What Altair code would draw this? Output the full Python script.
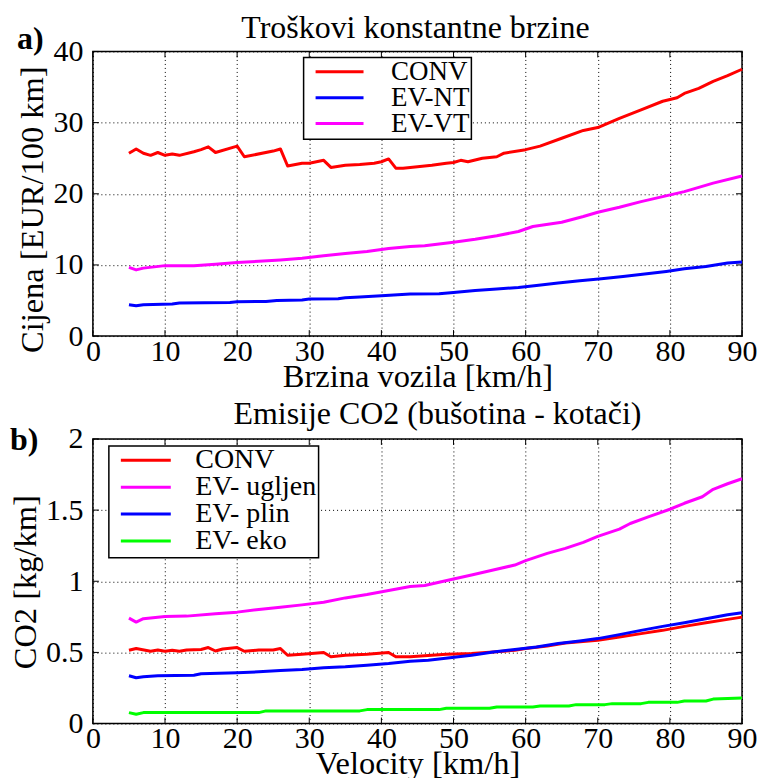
import altair as alt
import pandas as pd

FONT = "Liberation Serif"

# ---------------- panel a) : cost at constant speed ----------------
cost_conv_x = [5, 6, 7, 8, 9, 10, 11, 12, 14, 15, 16, 17, 20, 21, 25, 26, 27, 29, 30, 32, 33, 35, 37, 39, 40,
               41, 42, 43, 45, 47, 49, 50, 51, 52, 54, 56, 57, 60, 62, 65, 68, 70, 73, 76, 79, 81, 82, 84, 86, 88, 90]
cost_conv_y = [25.7, 26.3, 25.7, 25.4, 25.8, 25.4, 25.6, 25.4, 25.9, 26.2, 26.6, 25.8, 26.7, 25.2, 26.0, 26.3,
               23.9, 24.3, 24.3, 24.7, 23.7, 24.0, 24.1, 24.3, 24.5, 24.9, 23.6, 23.6, 23.8, 24.0, 24.3, 24.4,
               24.7, 24.5, 25.0, 25.2, 25.7, 26.2, 26.7, 27.8, 28.9, 29.3, 30.6, 31.8, 33.0, 33.5, 34.1, 34.8,
               35.8, 36.6, 37.5]

cost_evnt_x = [5, 6, 7, 11, 12, 19, 20, 24, 25.5, 29, 30, 34, 35, 37, 40, 44, 48, 50, 53, 56, 59, 61.5, 64.5,
               67.5, 70.5, 73.5, 76.5, 79.5, 82, 85, 88, 90]
cost_evnt_y = [4.4, 4.26, 4.4, 4.5, 4.64, 4.73, 4.82, 4.87, 5.0, 5.06, 5.2, 5.25, 5.39, 5.48, 5.67, 5.9, 5.95,
               6.14, 6.42, 6.6, 6.84, 7.12, 7.45, 7.78, 8.06, 8.38, 8.71, 9.09, 9.46, 9.79, 10.26, 10.4]

cost_evvt_x = [5, 6, 7, 10, 14, 17, 20, 23, 26, 29, 32, 35, 38, 41, 44, 46, 50, 53, 56, 59, 61, 65, 68, 70,
               73, 76, 79, 82, 84, 86, 90]
cost_evvt_y = [9.65, 9.3, 9.55, 9.9, 9.9, 10.1, 10.35, 10.5, 10.7, 10.95, 11.3, 11.6, 11.9, 12.3, 12.6, 12.7,
               13.2, 13.6, 14.1, 14.7, 15.4, 16.0, 16.8, 17.4, 18.1, 18.9, 19.6, 20.3, 20.9, 21.5, 22.5]

# ---------------- panel b) : CO2 emissions (well-to-wheel) ----------------
co2_conv_x = [5, 6, 8, 9, 10, 11, 12, 13, 15, 16, 17, 18, 20, 21, 23, 25, 26, 27, 29, 32, 33, 35, 38, 41, 42,
              44, 47, 49, 52.5, 55.5, 58.5, 60, 63, 65.5, 70, 73, 76, 79, 82, 85, 88, 90]
co2_conv_y = [0.515, 0.527, 0.508, 0.517, 0.508, 0.515, 0.508, 0.517, 0.520, 0.534, 0.510, 0.524, 0.534, 0.508,
              0.517, 0.517, 0.527, 0.480, 0.487, 0.499, 0.469, 0.480, 0.487, 0.499, 0.469, 0.469, 0.480, 0.487,
              0.492, 0.503, 0.515, 0.527, 0.545, 0.566, 0.585, 0.608, 0.632, 0.655, 0.683, 0.709, 0.732, 0.748]

co2_coal_x = [5, 6, 7, 10, 13, 17, 20, 23, 26, 29, 32, 35, 38, 41, 44, 46, 48, 50, 52.5, 55.5, 58.5, 60, 63,
              65.5, 68, 70, 73, 74.5, 77, 80, 82, 84.5, 86, 88, 90]
co2_coal_y = [0.741, 0.713, 0.737, 0.753, 0.755, 0.772, 0.783, 0.802, 0.818, 0.834, 0.853, 0.883, 0.907, 0.935,
              0.963, 0.970, 0.993, 1.016, 1.044, 1.079, 1.114, 1.145, 1.196, 1.231, 1.273, 1.315, 1.366, 1.406,
              1.452, 1.506, 1.548, 1.594, 1.646, 1.685, 1.72]

co2_gas_x = [5, 6, 7, 9, 14, 15, 20, 23, 26, 29, 32, 35, 38, 41, 44, 46.5, 49.5, 52.5, 55.5, 58.5, 61.5, 64.5,
             67.5, 70, 73, 76, 79, 82, 85, 88, 90]
co2_gas_y = [0.336, 0.322, 0.329, 0.336, 0.340, 0.350, 0.357, 0.364, 0.373, 0.380, 0.392, 0.399, 0.410, 0.422,
             0.438, 0.445, 0.462, 0.480, 0.503, 0.520, 0.538, 0.562, 0.580, 0.597, 0.625, 0.655, 0.683, 0.709,
             0.737, 0.765, 0.779]

co2_eco_x = [5, 6, 7, 23, 24, 37, 38, 48, 49, 55, 56, 61, 62, 66, 67, 71, 72, 76, 77, 81, 82, 85, 86, 90]
co2_eco_y = [0.077, 0.065, 0.077, 0.077, 0.089, 0.089, 0.098, 0.098, 0.107, 0.107, 0.117, 0.117, 0.124, 0.124,
             0.133, 0.133, 0.140, 0.140, 0.149, 0.149, 0.159, 0.159, 0.172, 0.179]

x_tick_values = [0, 10, 20, 30, 40, 50, 60, 70, 80, 90]
cost_tick_values = [0, 10, 20, 30, 40]
co2_tick_values = [0, 0.5, 1, 1.5, 2]

cost_names = ["CONV", "EV-NT", "EV-VT"]
cost_colors = ["#ff0000", "#0000ff", "#ff00ff"]
co2_names = ["CONV", "EV- ugljen", "EV- plin", "EV- eko"]
co2_colors = ["#ff0000", "#ff00ff", "#0000ff", "#00ff00"]

W, H = 650, 285


def to_long(names, xs_list, ys_list):
    rows = []
    for k, (n, xs, ys) in enumerate(zip(names, xs_list, ys_list)):
        for i, (a, b) in enumerate(zip(xs, ys)):
            rows.append({"series": n, "k": k, "i": i, "v": a, "val": b})
    return pd.DataFrame(rows)


def panel(df, names, colors, ydom, yticks, yfmt, ytitle, ytitle_y, xtitle, title, title_xy, tag, tag_xy,
          leg_xy, sym_len, label_size, sym_off, lab_off, row_pad):
    xscale = alt.Scale(domain=[0, 90], nice=False, zero=False)
    yscale = alt.Scale(domain=ydom, nice=False, zero=False)
    x_enc = alt.X("v:Q", scale=xscale,
                  axis=alt.Axis(values=x_tick_values, title=xtitle, format="d", labelFlush=False))
    y_enc = alt.Y("val:Q", scale=yscale,
                  axis=alt.Axis(values=yticks, title=ytitle, format=yfmt, titleY=ytitle_y))
    lines = alt.Chart(df).mark_line(strokeWidth=3, strokeJoin="round").encode(
        x=x_enc,
        y=y_enc,
        color=alt.Color("series:N", scale=alt.Scale(domain=names, range=colors), sort=names, title=None,
                        legend=alt.Legend(orient="none", legendX=leg_xy[0], legendY=leg_xy[1],
                                          symbolType="stroke", symbolSize=sym_len ** 2,
                                          symbolStrokeWidth=3, labelFont=FONT, labelFontSize=label_size,
                                          labelColor="black", clipHeight=24.5, rowPadding=row_pad, padding=2,
                                          strokeColor="black", fillColor="white", cornerRadius=0,
                                          symbolOffset=sym_off, labelOffset=lab_off, labelLimit=400)),
        order="i:Q",
    )
    xt = pd.DataFrame({"v": x_tick_values})
    yt = pd.DataFrame({"val": yticks})
    tb = alt.Chart(xt).mark_rule(color="black", strokeWidth=1).encode(
        x=x_enc, y=alt.value(H), y2=alt.value(H - 6))
    tt = alt.Chart(xt).mark_rule(color="black", strokeWidth=1).encode(
        x=x_enc, y=alt.value(0), y2=alt.value(6))
    tl = alt.Chart(yt).mark_rule(color="black", strokeWidth=1).encode(
        y=y_enc, x=alt.value(0), x2=alt.value(6))
    tr = alt.Chart(yt).mark_rule(color="black", strokeWidth=1).encode(
        y=y_enc, x=alt.value(W), x2=alt.value(W - 6))
    tagm = alt.Chart(pd.DataFrame({"s": [tag]})).mark_text(
        font=FONT, fontSize=32, fontWeight="bold", align="left", baseline="alphabetic", color="black"
    ).encode(text="s:N", x=alt.value(tag_xy[0]), y=alt.value(tag_xy[1]))
    titlem = alt.Chart(pd.DataFrame({"s": [title]})).mark_text(
        font=FONT, fontSize=32, align="center", baseline="alphabetic", color="black"
    ).encode(text="s:N", x=alt.value(title_xy[0]), y=alt.value(title_xy[1]))
    return alt.layer(lines, tb, tt, tl, tr, tagm, titlem).properties(width=W, height=H)


cost_df = to_long(cost_names, [cost_conv_x, cost_evnt_x, cost_evvt_x], [cost_conv_y, cost_evnt_y, cost_evvt_y])
co2_df = to_long(co2_names, [co2_conv_x, co2_coal_x, co2_gas_x, co2_eco_x],
                 [co2_conv_y, co2_coal_y, co2_gas_y, co2_eco_y])

top = panel(cost_df, cost_names, cost_colors, [0, 40], cost_tick_values, "d", "Cijena [EUR/100 km]", 158,
            "Brzina vozila [km/h]", "Troškovi konstantne brzine", (W / 2 - 2, -13), "a)", (-76, -2),
            (211, 6), 48, 27, 8.5, 26, -4.5)
bottom = panel(co2_df, co2_names, co2_colors, [0, 2], co2_tick_values, ".1~f", "CO2 [kg/km]", 143,
               "Velocity [km/h]", "Emisije CO2 (bušotina - kotači)", (W / 2 + 20, -15), "b)", (-83, 11),
               (16, 7), 50, 28, 8.5, 23, -7)

chart = alt.vconcat(top, bottom, spacing=3).resolve_scale(
    color="independent"
).resolve_legend(color="independent").configure_axis(
    labelFont=FONT, labelFontSize=30, labelColor="black", titleFont=FONT, titleFontSize=32.5,
    titleFontWeight="normal", titleColor="black", domain=False, ticks=False, grid=True,
    gridColor="black", gridDash=[1, 3], gridWidth=1, gridOpacity=1
).configure_axisX(labelPadding=0, titlePadding=-6).configure_axisY(labelPadding=10, titlePadding=3
).configure_view(stroke="black", strokeWidth=1.5).configure_legend(strokeWidth=1.5).properties(
    padding={"left": 0, "top": 3, "right": 0, "bottom": 0}, background="white")

chart.save("out.html", embed_options={"renderer": "svg", "actions": False})
